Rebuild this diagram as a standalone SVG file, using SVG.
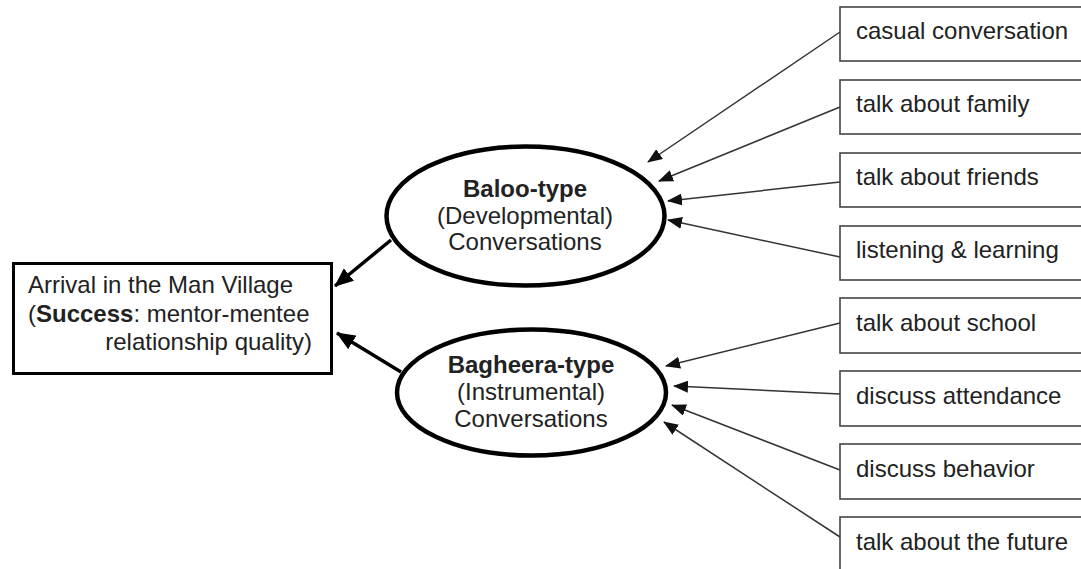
<svg xmlns="http://www.w3.org/2000/svg" width="1081" height="569" viewBox="0 0 1081 569">
<style>
text{font-family:"Liberation Sans",Arial,sans-serif;font-size:24px;fill:#222}
.b{font-weight:bold}
.src{fill:#fff;stroke:#444;stroke-width:1.6}
.thin{stroke:#333;stroke-width:1.5;fill:none;marker-end:url(#ah)}
.thick{stroke:#000;stroke-width:3.5;fill:none;marker-end:url(#AH)}
.ell{fill:#fff;stroke:#000;stroke-width:4.5}
</style>
<defs>
<marker id="ah" markerUnits="userSpaceOnUse" markerWidth="16" markerHeight="12" refX="14" refY="6" orient="auto"><path d="M0,0 L15,6 L0,12 z" fill="#111"/></marker>
<marker id="AH" markerUnits="userSpaceOnUse" markerWidth="20" markerHeight="16" refX="18" refY="8" orient="auto"><path d="M0,0 L19,8 L0,16 z" fill="#000"/></marker>
</defs>
<rect width="1081" height="569" fill="#fff"/>
<g id="connectors">
<line class="thin" x1="840" y1="32" x2="648" y2="162"/>
<line class="thin" x1="840" y1="107" x2="659" y2="181"/>
<line class="thin" x1="840" y1="182" x2="668" y2="201"/>
<line class="thin" x1="840" y1="257" x2="668" y2="220"/>
<line class="thin" x1="840" y1="323" x2="666" y2="366"/>
<line class="thin" x1="840" y1="394" x2="674" y2="386"/>
<line class="thin" x1="840" y1="470" x2="672" y2="405"/>
<line class="thin" x1="840" y1="537" x2="664" y2="422"/>
<line class="thick" x1="391" y1="240" x2="335" y2="286"/>
<line class="thick" x1="401" y1="372" x2="337" y2="333"/>
</g>
<g id="outcome">
<rect x="13.5" y="263.5" width="318" height="110" fill="#fff" stroke="#000" stroke-width="3"/>
<text x="28" y="293">Arrival in the Man Village</text>
<text x="28" y="322">(<tspan class="b">Success</tspan>: mentor-mentee</text>
<text x="312" y="350" text-anchor="end">relationship quality)</text>
</g>
<g id="baloo">
<ellipse class="ell" cx="525.5" cy="216" rx="139" ry="69.5"/>
<text x="525" y="197" text-anchor="middle" class="b">Baloo-type</text>
<text x="525" y="224" text-anchor="middle">(Developmental)</text>
<text x="525" y="250" text-anchor="middle">Conversations</text>
</g>
<g id="bagheera">
<ellipse class="ell" cx="531.5" cy="392.5" rx="134.5" ry="63"/>
<text x="531" y="373" text-anchor="middle" class="b">Bagheera-type</text>
<text x="531" y="400" text-anchor="middle">(Instrumental)</text>
<text x="531" y="427" text-anchor="middle">Conversations</text>
</g>
<g id="s1"><rect class="src" x="840" y="7" width="244" height="54"/><text x="856" y="39">casual conversation</text></g>
<g id="s2"><rect class="src" x="840" y="80" width="244" height="54"/><text x="856" y="112">talk about family</text></g>
<g id="s3"><rect class="src" x="840" y="153" width="244" height="54"/><text x="856" y="185">talk about friends</text></g>
<g id="s4"><rect class="src" x="840" y="226" width="244" height="54"/><text x="856" y="258">listening &amp; learning</text></g>
<g id="s5"><rect class="src" x="840" y="298" width="244" height="55"/><text x="856" y="331">talk about school</text></g>
<g id="s6"><rect class="src" x="840" y="371" width="244" height="55"/><text x="856" y="404">discuss attendance</text></g>
<g id="s7"><rect class="src" x="840" y="444" width="244" height="55"/><text x="856" y="477">discuss behavior</text></g>
<g id="s8"><rect class="src" x="840" y="517" width="244" height="55"/><text x="856" y="550">talk about the future</text></g>
</svg>
